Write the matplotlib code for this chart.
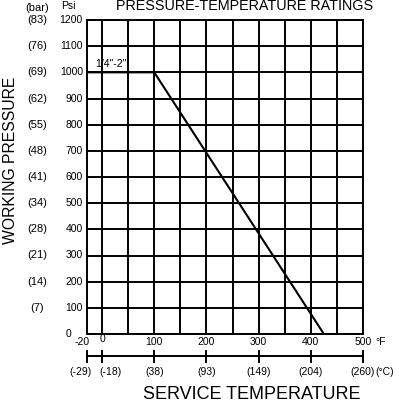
import matplotlib
matplotlib.use('Agg')
import matplotlib.pyplot as plt
import matplotlib.transforms as mtransforms

# rating curve (deg F, psi)
temp_f = [-20, 100, 425]
pressure_psi = [1000, 1000, 0]

psi_ticks = [0, 100, 200, 300, 400, 500, 600, 700, 800, 900, 1000, 1100, 1200]
bar_labels = ['(7)', '(14)', '(21)', '(28)', '(34)', '(41)', '(48)', '(55)',
              '(62)', '(69)', '(76)', '(83)']  # for 100..1200 psi
grid_f = list(range(0, 501, 50))
f_ticks = [-20, 0, 100, 200, 300, 400, 500]
c_labels = ['(-29)', '(-18)', '(38)', '(93)', '(149)', '(204)', '(260)']
size_label = '1/4"-2"'

plt.rcParams['font.family'] = ['Liberation Sans', 'DejaVu Sans']

# the chart stretches the -20..0 step a bit wider than the rest
def fwd(x):
    import numpy as np
    x = np.asarray(x, dtype=float)
    return np.where(x < 0, x * 1.44, x)

def inv(x):
    import numpy as np
    x = np.asarray(x, dtype=float)
    return np.where(x < 0, x / 1.44, x)

W, H = 399, 403
fig = plt.figure(figsize=(W / 100, H / 100), dpi=100)
ax = fig.add_axes([87 / W, 69 / H, 276 / W, 314 / H])
ax.set_xscale('function', functions=(fwd, inv))
ax.set_xlim(-20, 500)
ax.set_ylim(0, 1200)
ax.set_xticks(grid_f)
ax.set_yticks(psi_ticks)
ax.minorticks_off()
ax.grid(True, color='black', lw=1.4)
ax.tick_params(length=0, labelbottom=False, labelleft=False)
for s in ax.spines.values():
    s.set_linewidth(1.4)

ax.plot(temp_f, pressure_psi, color='black', lw=1.5, solid_capstyle='butt')
ax.text(-9, 1020, size_label, fontsize=7.5, va='baseline', ha='left')

fs = 7.5
ytr = ax.get_yaxis_transform()
for p in psi_ticks:
    if p == 0:
        ax.text(-0.076, p, '0', transform=ytr, ha='left', va='center', fontsize=fs)
    else:
        ax.text(-0.015, p, str(p), transform=ytr, ha='right', va='center', fontsize=fs)
for p, lab in zip(psi_ticks[1:], bar_labels):
    ax.text(-0.181, p, lab, transform=ytr, ha='center', va='center', fontsize=8)

xtr = ax.get_xaxis_transform()

def shifted(dx):
    return mtransforms.offset_copy(xtr, fig=fig, x=dx, units='dots')

for t in f_ticks:
    if t == -20:
        ax.text(t, -0.0255, str(t), transform=shifted(3), ha='right', va='center', fontsize=fs)
    elif t == 0:
        ax.text(t, -0.017, str(t), transform=xtr, ha='center', va='center', fontsize=fs)
    else:
        ax.text(t, -0.0255, str(t), transform=xtr, ha='center', va='center', fontsize=fs)
ax.text(500, -0.0255, '°F', transform=shifted(12), ha='left', va='center', fontsize=fs)

# celsius scale
ax.plot([f_ticks[0], f_ticks[-1]], [-0.070, -0.070], transform=xtr, color='black',
        lw=1.4, clip_on=False)
for t, lab in zip(f_ticks, c_labels):
    ax.plot([t, t], [-0.054, -0.089], transform=xtr, color='black', lw=1.4, clip_on=False)
    if t == -20:
        ax.text(t, -0.121, lab, transform=shifted(5), ha='right', va='center', fontsize=fs)
    elif t == 0:
        ax.text(t, -0.121, lab, transform=shifted(-3), ha='left', va='center', fontsize=fs)
    else:
        ax.text(t, -0.121, lab, transform=xtr, ha='center', va='center', fontsize=fs)
ax.text(500, -0.121, '(°C)', transform=shifted(12), ha='left', va='center', fontsize=fs)

fig.text(61 / W, 1 - 9 / H, 'Psi', ha='left', va='baseline', fontsize=fs)
fig.text(37 / W, 1 - 11 / H, '(bar)', ha='center', va='baseline', fontsize=8)
fig.text(245 / W, 1 - 10 / H, 'PRESSURE-TEMPERATURE RATINGS', ha='center', va='baseline', fontsize=10.4)
fig.text(252 / W, 4 / H, 'SERVICE TEMPERATURE', ha='center', va='baseline', fontsize=13)
fig.text(11 / W, 1 - 160 / H, 'WORKING PRESSURE', ha='center', va='center', rotation=90, fontsize=11.3)

fig.savefig('out.png', dpi=100)
